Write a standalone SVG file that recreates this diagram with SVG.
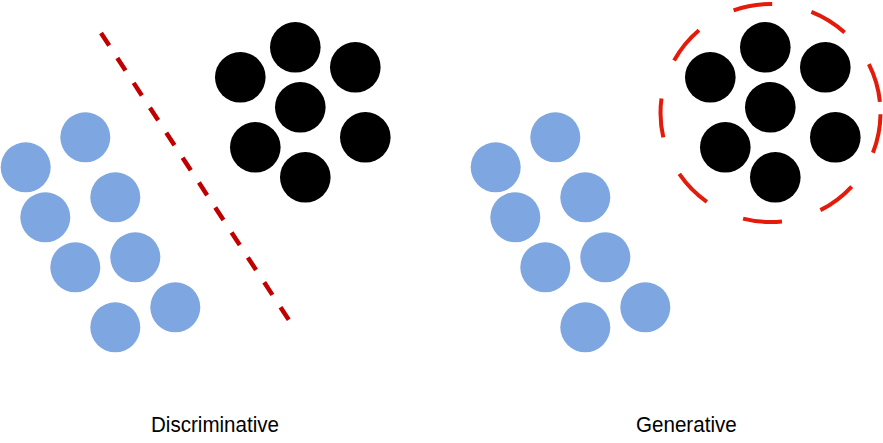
<svg xmlns="http://www.w3.org/2000/svg" width="883" height="443" viewBox="0 0 883 443">
<style>
.blue{fill:#7EA6E0}
.black{fill:#000000}
.lbl{font-family:"Liberation Sans",Arial,sans-serif;font-size:22px;fill:#000000}
</style>
<rect x="0" y="0" width="883" height="443" fill="#ffffff"/>
<g id="connectors">
<line id="boundary" x1="101" y1="33" x2="289.5" y2="321" stroke="#C00000" stroke-width="4.5" stroke-dasharray="15 14.8" fill="none"/>
<ellipse id="density" cx="770.5" cy="113" rx="110" ry="109" fill="none" stroke="#E41A0A" stroke-width="4" pathLength="360" stroke-dasharray="20.6 21" stroke-dashoffset="-0.7"/>
</g>
<g id="disc-blue">
<circle class="blue" cx="85.3" cy="137.3" r="25"/>
<circle class="blue" cx="25.7" cy="167.3" r="25"/>
<circle class="blue" cx="115.3" cy="197.3" r="25"/>
<circle class="blue" cx="45.3" cy="217.3" r="25"/>
<circle class="blue" cx="135.3" cy="257.3" r="25"/>
<circle class="blue" cx="75.3" cy="267.3" r="25"/>
<circle class="blue" cx="175.3" cy="307.3" r="25"/>
<circle class="blue" cx="115.3" cy="327.3" r="25"/>
</g>
<g id="disc-black">
<circle class="black" cx="295.3" cy="47.3" r="25.3"/>
<circle class="black" cx="240.3" cy="77.3" r="25.3"/>
<circle class="black" cx="355.3" cy="67.3" r="25.3"/>
<circle class="black" cx="300.3" cy="107.3" r="25.3"/>
<circle class="black" cx="255.3" cy="147.3" r="25.3"/>
<circle class="black" cx="365.3" cy="137.3" r="25.3"/>
<circle class="black" cx="305.3" cy="177.3" r="25.3"/>
</g>
<g id="gen-blue">
<circle class="blue" cx="555.3" cy="137.3" r="25"/>
<circle class="blue" cx="495.7" cy="167.3" r="25"/>
<circle class="blue" cx="585.3" cy="197.3" r="25"/>
<circle class="blue" cx="515.3" cy="217.3" r="25"/>
<circle class="blue" cx="605.3" cy="257.3" r="25"/>
<circle class="blue" cx="545.3" cy="267.3" r="25"/>
<circle class="blue" cx="645.3" cy="307.3" r="25"/>
<circle class="blue" cx="585.3" cy="327.3" r="25"/>
</g>
<g id="gen-black">
<circle class="black" cx="765.3" cy="47.3" r="25.3"/>
<circle class="black" cx="710.3" cy="77.3" r="25.3"/>
<circle class="black" cx="825.3" cy="67.3" r="25.3"/>
<circle class="black" cx="770.3" cy="107.3" r="25.3"/>
<circle class="black" cx="725.3" cy="147.3" r="25.3"/>
<circle class="black" cx="835.3" cy="137.3" r="25.3"/>
<circle class="black" cx="775.3" cy="177.3" r="25.3"/>
</g>
<g id="label-disc">
<text class="lbl" x="151" y="431.5" textLength="128" lengthAdjust="spacingAndGlyphs">Discriminative</text>
</g>
<g id="label-gen">
<text class="lbl" x="636" y="431.5" textLength="100.7" lengthAdjust="spacingAndGlyphs">Generative</text>
</g>
</svg>
